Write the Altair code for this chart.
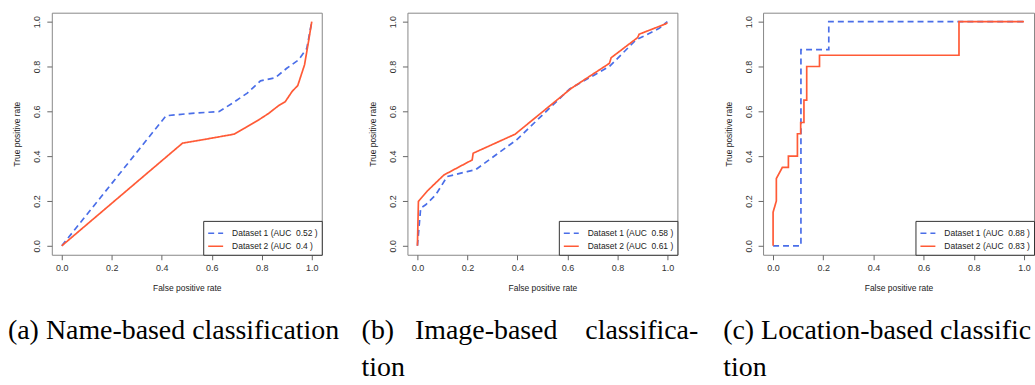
import altair as alt
import pandas as pd

BLUE = "#4a6ee8"
RED = "#ff5a36"
SANS = "Liberation Sans"
SERIF = "Liberation Serif"

# ---------- data ----------
# (a) Name-based classification
a_d1_fpr = [0, 0.417, 0.51, 0.63, 0.682, 0.742, 0.795, 0.854, 0.90, 0.947, 0.98, 1.0]
a_d1_tpr = [0, 0.58, 0.59, 0.599, 0.636, 0.681, 0.736, 0.75, 0.792, 0.829, 0.88, 1.0]
a_d2_fpr = [0, 0.483, 0.563, 0.689, 0.735, 0.788, 0.828, 0.868, 0.894, 0.921, 0.944, 0.971, 0.987, 1.0]
a_d2_tpr = [0, 0.458, 0.473, 0.498, 0.527, 0.562, 0.591, 0.626, 0.643, 0.688, 0.715, 0.807, 0.911, 1.0]

# (b) Image-based classification
b_d1_fpr = [0, 0.013, 0.033, 0.073, 0.119, 0.199, 0.232, 0.397, 0.609, 0.768, 0.874, 0.967, 1.0]
b_d1_tpr = [0, 0.168, 0.183, 0.227, 0.309, 0.331, 0.339, 0.473, 0.700, 0.800, 0.918, 0.97, 1.0]
b_d2_fpr = [0, 0.004, 0.04, 0.106, 0.219, 0.223, 0.391, 0.616, 0.768, 0.775, 0.881, 0.887, 0.993, 1.0]
b_d2_tpr = [0, 0.198, 0.245, 0.316, 0.383, 0.413, 0.498, 0.703, 0.814, 0.839, 0.929, 0.944, 0.99, 0.995]

# (c) Location-based classification
c_d1_fpr = [0, 0.111, 0.111, 0.222, 0.222, 1.0]
c_d1_tpr = [0, 0, 0.875, 0.875, 1.0, 1.0]
c_d2_fpr = [0, 0, 0.013, 0.013, 0.037, 0.061, 0.061, 0.097, 0.097, 0.11, 0.11,
            0.123, 0.123, 0.134, 0.134, 0.185, 0.185, 0.741, 0.741, 1.0]
c_d2_tpr = [0, 0.15, 0.2, 0.3, 0.35, 0.35, 0.4, 0.4, 0.5, 0.5, 0.55,
            0.55, 0.65, 0.65, 0.8, 0.8, 0.85, 0.85, 1.0, 1.0]

NB = "\u00a0"
a_labels = [f"Dataset 1 (AUC{NB}{NB}0.52 )", f"Dataset 2 (AUC{NB}{NB}0.4 )"]
b_labels = [f"Dataset 1 (AUC{NB}{NB}0.58 )", f"Dataset 2 (AUC{NB}{NB}0.61 )"]
c_labels = [f"Dataset 1 (AUC{NB}{NB}0.88 )", f"Dataset 2 (AUC{NB}{NB}0.83 )"]

a_caption = ["(a) Name-based classification"]
b_caption = [f"(b){NB}{NB}{NB}Image-based{NB}{NB}{NB}{NB}classifica-", "tion"]
c_caption = ["(c) Location-based classific", "tion"]

tick_values = [0, 0.2, 0.4, 0.6, 0.8, 1.0]


def frame(fpr1, tpr1, fpr2, tpr2, labels):
    rows = []
    for i, (x, y) in enumerate(zip(fpr1, tpr1)):
        rows.append({"fpr": x, "tpr": y, "series": labels[0], "i": i})
    for i, (x, y) in enumerate(zip(fpr2, tpr2)):
        rows.append({"fpr": x, "tpr": y, "series": labels[1], "i": i})
    return pd.DataFrame(rows)


def panel(df, labels, caption, dx, width):
    leg = alt.Legend(
        title=None, orient="bottom-right", offset=0,
        symbolType="stroke", symbolSize=225, symbolStrokeWidth=1.5,
        labelFont=SANS, labelFontSize=8.5, labelColor="#222",
        labelOffset=8, padding=4, rowPadding=0,
        strokeColor="#333", fillColor="white", labelLimit=300,
    )
    return alt.Chart(df).mark_line(strokeWidth=1.7, clip=True).encode(
        x=alt.X("fpr:Q", scale=alt.Scale(domain=[-0.04, 1.04], nice=False, zero=False),
                axis=alt.Axis(values=tick_values, format=".1f", title="False positive rate")),
        y=alt.Y("tpr:Q", scale=alt.Scale(domain=[-0.04, 1.04], nice=False, zero=False),
                axis=alt.Axis(values=tick_values, format=".1f", title="True positive rate",
                              labelAngle=270, labelAlign="center", labelBaseline="bottom")),
        color=alt.Color("series:N", scale=alt.Scale(domain=labels, range=[BLUE, RED]), legend=leg),
        strokeDash=alt.StrokeDash("series:N", scale=alt.Scale(domain=labels, range=[[6, 4], [1, 0]]),
                                  legend=leg),
        order=alt.Order("i:Q"),
    ).properties(
        width=width, height=243,
        title=alt.TitleParams(
            text=caption, orient="bottom", anchor="start", frame="group", dx=dx,
            font=SERIF, fontSize=28, fontWeight="normal", color="black",
            lineHeight=37, offset=25,
        ),
    )


pa = panel(frame(a_d1_fpr, a_d1_tpr, a_d2_fpr, a_d2_tpr, a_labels), a_labels, a_caption, -44, 271)
pb = panel(frame(b_d1_fpr, b_d1_tpr, b_d2_fpr, b_d2_tpr, b_labels), b_labels, b_caption, -46, 271)
pc = panel(frame(c_d1_fpr, c_d1_tpr, c_d2_fpr, c_d2_tpr, c_labels), c_labels, c_caption, -40, 272)

chart = alt.hconcat(pa, pb, pc, spacing=86, bounds="flush").resolve_scale(
    color="independent", strokeDash="independent"
).properties(
    padding={"left": 7, "top": 11, "right": 0, "bottom": 0},
    background="white",
).configure_view(
    stroke="#888", strokeWidth=1,
).configure_axis(
    grid=False, domain=False,
    labelFont=SANS, labelFontSize=9, labelColor="#333",
    titleFont=SANS, titleFontSize=8.5, titleColor="#222", titleFontWeight="normal",
    tickColor="#666", tickSize=5, tickWidth=1,
).configure_axisX(
    labelPadding=4, titlePadding=11,
).configure_axisY(
    labelPadding=5, titlePadding=11,
)

chart.save("out.html", embed_options={"renderer": "svg", "actions": False})
